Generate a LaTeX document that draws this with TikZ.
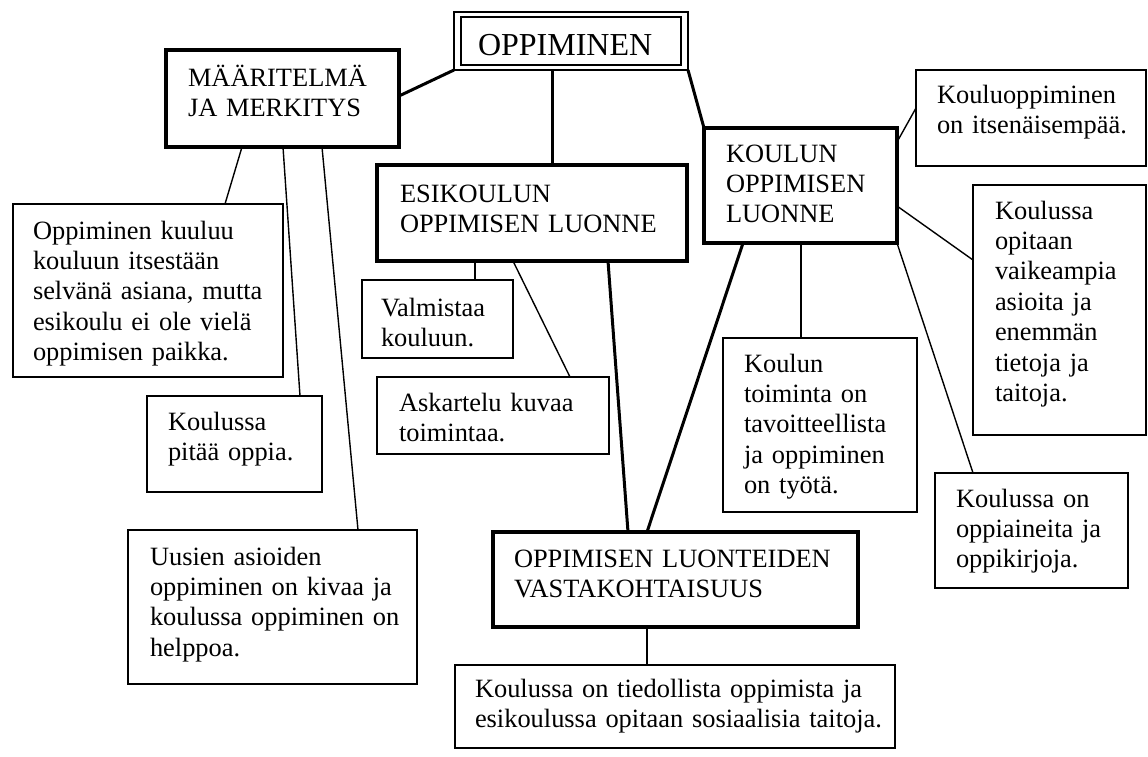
\documentclass[tikz,border=0pt]{standalone}
\usepackage{fontspec}
\setmainfont{Liberation Serif}
\hyphenpenalty=10000
\begin{document}
\begin{tikzpicture}[x=1pt,y=-1pt,
  txt/.style={anchor=north west, inner xsep=0pt, inner ysep=0pt, outer sep=0pt,
    align=left, font=\fontsize{26.4}{30.4}\selectfont},
  note/.style={txt, draw, line width=1.4pt},
  topic/.style={txt, draw, line width=3.2pt},
  % width, left margin, first-baseline depth, rest of height
  sz/.style n args={4}{text width=#1pt, execute at begin node={\leftskip=#2pt},
    text height=#3pt, text depth=#4pt},
  thin/.style={line width=1.4pt},
  heavy/.style={line width=3pt}]
\fill[white] (0,0) rectangle (1148,756);
\useasboundingbox (0,0) rectangle (1148,756);

% title with its double frame
\node[draw, line width=2.6pt, minimum width=234pt, minimum height=58pt,
  anchor=north west, inner sep=0pt, outer sep=0pt] (frame) at (454,12) {};
\node[topic, line width=2.2pt, sz={220}{17}{38}{10},
  font=\fontsize{32}{36}\selectfont] (top) at (461,17) {OPPIMINEN};

% main topics
\node[topic, sz={233}{22}{36}{61}] (def) at (166,50) {MÄÄRITELMÄ\\JA MERKITYS};
\node[topic, sz={310}{23}{37}{59}] (esi) at (377,165) {ESIKOULUN\\OPPIMISEN LUONNE};
\node[topic, sz={193}{22}{34}{81}] (kou) at (704,128) {KOULUN\\OPPIMISEN\\LUONNE};
\node[topic, sz={365}{21}{35}{60}] (vas) at (493,532) {OPPIMISEN LUONTEIDEN\\VASTAKOHTAISUUS};

% notes
\node[note, sz={270}{20}{35}{138}] (n1) at (13,204)
  {Oppiminen kuuluu\\kouluun itsestään\\selvänä asiana, mutta\\esikoulu ei ole vielä\\oppimisen paikka.};
\node[note, sz={175}{21}{34}{62}] (n2) at (147,396) {Koulussa\\pitää oppia.};
\node[note, sz={289}{22}{35}{119}] (n3) at (128,530)
  {Uusien asioiden\\oppiminen on kivaa ja\\koulussa oppiminen on\\helppoa.};
\node[note, sz={151}{19}{36}{42}] (n4) at (362,280) {Valmistaa\\kouluun.};
\node[note, sz={232}{22}{34}{43}] (n5) at (377,377) {Askartelu kuvaa\\toimintaa.};
\node[note, sz={230}{21}{33}{63}] (n6) at (916,70) {Kouluoppiminen\\on itsenäisempää.};
\node[note, sz={173}{22}{34}{216}] (n7) at (973,185)
  {Koulussa\\opitaan\\vaikeampia\\asioita ja\\enemmän\\tietoja ja\\taitoja.};
\node[note, sz={194}{21}{34}{140}] (n8) at (723,338)
  {Koulun\\toiminta on\\tavoitteellista\\ja oppiminen\\on työtä.};
\node[note, sz={193}{21}{34}{81}] (n9) at (935,473) {Koulussa on\\oppiaineita ja\\oppikirjoja.};
\node[note, sz={440}{20}{32}{51}] (n10) at (455,665)
  {Koulussa on tiedollista oppimista ja\\esikoulussa opitaan sosiaalisia taitoja.};

% links from the title
\draw[heavy] (frame.south west) -- ([yshift=-46pt]def.north east);
\draw[heavy] ([xshift=-19pt]frame.south) -- ([xshift=20pt]esi.north);
\draw[heavy] (frame.south east) -- (kou.north west);

% links from the topics
\draw[thin] ([xshift=76pt]def.south west) -- ([xshift=212pt]n1.north west);
\draw[thin] ([xshift=117pt]def.south west) -- ([xshift=-22pt]n2.north east);
\draw[thin] ([xshift=156pt]def.south west) -- ([xshift=230pt]n3.north west);
\draw[thin] ([xshift=98pt]esi.south west) -- ([xshift=113pt]n4.north west);
\draw[thin] ([xshift=136pt]esi.south west) -- ([xshift=193pt]n5.north west);
\draw[heavy] ([xshift=231pt]esi.south west) -- ([xshift=135pt]vas.north west);
\draw[heavy] ([xshift=39pt]kou.south west) -- ([xshift=154pt]vas.north west);
\draw[thin] ([xshift=97pt]kou.south west) -- ([xshift=78pt]n8.north west);
\draw[thin] (kou.south east) -- ([xshift=38pt]n9.north west);
\draw[thin] ([yshift=-14pt]kou.north east) -- ([yshift=-38pt]n6.north west);
\draw[thin] ([yshift=-78pt]kou.north east) -- ([yshift=-75pt]n7.north west);
\draw[thin] ([xshift=154pt]vas.south west) -- ([xshift=192pt]n10.north west);
\end{tikzpicture}
\end{document}
